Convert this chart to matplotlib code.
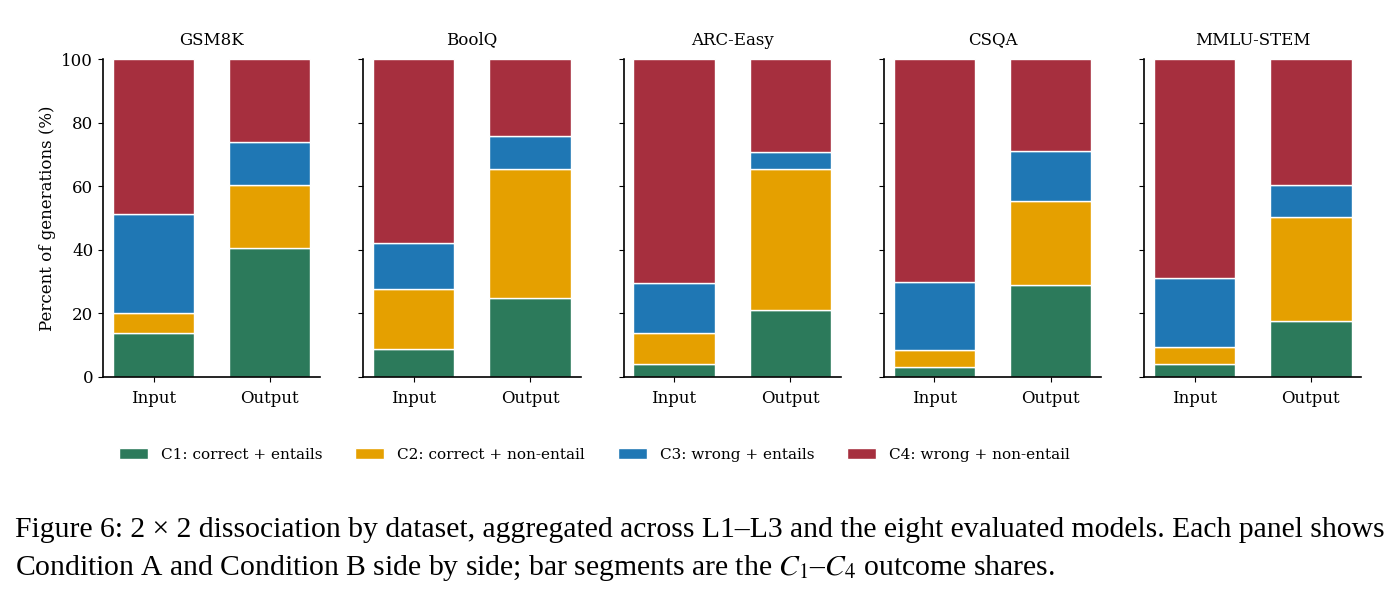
import matplotlib
matplotlib.use("Agg")
import matplotlib.pyplot as plt
import numpy as np

# Datos (porcentaje por segmento, Input / Output)
datasets = ["GSM8K", "BoolQ", "ARC-Easy", "CSQA", "MMLU-STEM"]
conditions = ["Input", "Output"]
labels = ["C1: correct + entails", "C2: correct + non-entail",
          "C3: wrong + entails", "C4: wrong + non-entail"]
colors = ["#2c7a5b", "#e5a000", "#1f77b4", "#a62f3e"]

c1 = [[13.7, 40.6], [8.7, 24.7], [4.0, 21.0], [3.2, 28.8], [4.0, 17.6]]
c2 = [[6.3, 19.8], [19.1, 40.7], [9.7, 44.4], [5.2, 26.4], [5.4, 32.7]]
c3 = [[31.3, 13.4], [14.2, 10.3], [15.7, 5.3], [21.6, 15.9], [21.8, 10.0]]
c4 = [[48.7, 26.2], [58.0, 24.3], [70.6, 29.3], [70.0, 28.9], [68.8, 39.7]]

plt.rcParams["font.family"] = "DejaVu Serif"
plt.rcParams["mathtext.fontset"] = "stix"

fig, axes = plt.subplots(1, 5, figsize=(13.92, 6.03), dpi=100, sharey=True)
fig.subplots_adjust(left=0.074, right=0.978, top=0.902, bottom=0.375, wspace=0.198)

segments = [c1, c2, c3, c4]
x = np.arange(len(conditions))
for i, ax in enumerate(axes):
    bottom = np.zeros(len(conditions))
    for seg, col, lab in zip(segments, colors, labels):
        vals = np.array(seg[i])
        ax.bar(x, vals, 0.7, bottom=bottom, color=col, edgecolor="white",
               linewidth=1, label=lab)
        bottom += vals
    ax.set_title(datasets[i], fontsize=12, pad=10.5)
    ax.set_xticks(x)
    ax.set_xticklabels(conditions, fontsize=12)
    ax.set_ylim(0, 100)
    ax.set_yticks([0, 20, 40, 60, 80, 100])
    ax.tick_params(axis="y", labelsize=12)
    ax.tick_params(axis="x", pad=6)
    ax.spines["top"].set_visible(False)
    ax.spines["right"].set_visible(False)
    ax.spines["left"].set_linewidth(1.2)
    ax.spines["bottom"].set_linewidth(1.2)

axes[0].set_ylabel("Percent of generations (%)", fontsize=12)

handles, labs = axes[0].get_legend_handles_labels()
fig.legend(handles, labs, loc="center", ncol=4, frameon=False, fontsize=11,
           bbox_to_anchor=(0.427, 1 - 455 / 603), columnspacing=2.15,
           handlelength=1.9, handletextpad=0.85)

caption1 = ("Figure 6: 2 \u00d7 2 dissociation by dataset, aggregated across L1\u2013L3 "
            "and the eight evaluated models. Each panel shows")
caption2 = ("Condition A and Condition B side by side; bar segments are the "
            "$C_1$\u2013$C_4$ outcome shares.")
fig.text(0.011, 1 - 530 / 603, caption1, fontsize=21.3, family="Liberation Serif", va="center")
fig.text(0.011, 1 - 568 / 603, caption2, fontsize=21.3, family="Liberation Serif", va="center")

fig.savefig("out.png", dpi=100)
